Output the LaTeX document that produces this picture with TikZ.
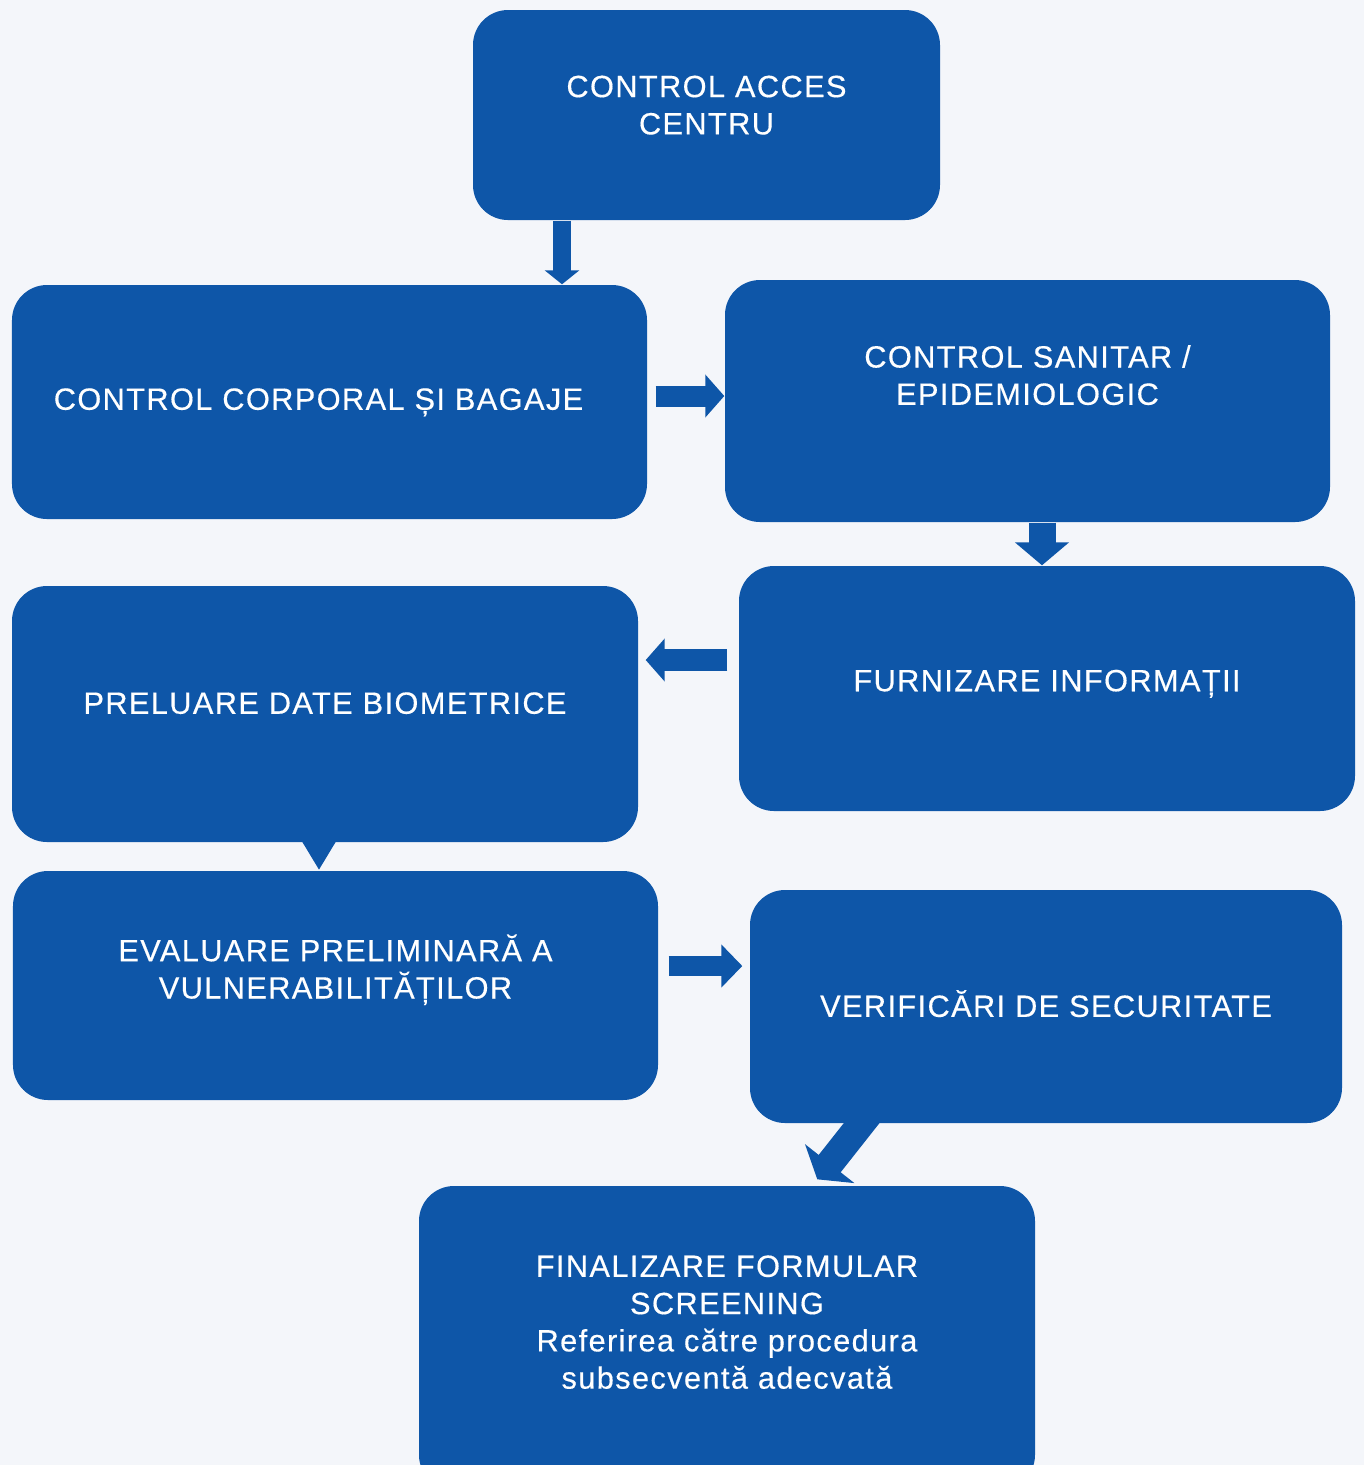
\documentclass[tikz,border=0pt]{standalone}
\usepackage{fontspec}
\setmainfont{Liberation Sans}[LetterSpace=4.5,FakeBold=0.4]
\usetikzlibrary{arrows.meta,calc}
\definecolor{boxblue}{RGB}{14,86,168}
\definecolor{pagegrey}{RGB}{244,246,250}

\begin{document}
\begin{tikzpicture}[
  stepbox/.style={rectangle, rounded corners=0.35cm, fill=boxblue, text=white, align=center, inner sep=0pt, font=\fontsize{8.75}{10.6}\selectfont},
  flowarrow/.style n args={3}{draw=boxblue, line width=#1, -{Triangle[length=#2, width=#3]}}
]
  \fill[pagegrey] (0,0) rectangle (13.64,-14.65);
  \useasboundingbox (0,0) rectangle (13.64,-14.65);

  \node[stepbox, minimum width=4.67cm, minimum height=2.10cm, text depth=0.2cm] (acces) at (7.065,-1.15) {CONTROL ACCES\\CENTRU};
  \node[stepbox, minimum width=6.35cm, minimum height=2.34cm, text depth=0.06cm] (corporal) at (3.295,-4.02) {CONTROL CORPORAL ȘI BAGAJE\hspace*{0.22cm}};
  \node[stepbox, minimum width=6.05cm, minimum height=2.42cm, text depth=0.52cm] (sanitar) at (10.275,-4.01) {CONTROL SANITAR /\\EPIDEMIOLOGIC};
  \node[stepbox, minimum width=6.16cm, minimum height=2.45cm, text depth=0.16cm] (furnizare) at (10.47,-6.885) {FURNIZARE INFORMAȚII};
  \node[stepbox, minimum width=6.26cm, minimum height=2.56cm, text depth=0.22cm] (preluare) at (3.25,-7.14) {PRELUARE DATE BIOMETRICE};
  \node[stepbox, minimum width=6.45cm, minimum height=2.29cm, text depth=0.38cm] (evaluare) at (3.355,-9.855) {EVALUARE PRELIMINARĂ A\\VULNERABILITĂȚILOR};
  \node[stepbox, minimum width=5.92cm, minimum height=2.33cm, text depth=0.06cm] (verificari) at (10.46,-10.065) {VERIFICĂRI DE SECURITATE};
  \node[stepbox, minimum width=6.16cm, minimum height=3.04cm, text depth=0.32cm] (finalizare) at (7.27,-13.38) {FINALIZARE FORMULAR\\SCREENING\\Referirea către procedura\\subsecventă adecvată};

  % arrows between the steps
  \draw[flowarrow={0.18cm}{0.14cm}{0.34cm}] (5.62,0 |- acces.south) -- (5.62,0 |- corporal.north);
  \draw[flowarrow={0.21cm}{0.19cm}{0.42cm}, shorten <=0.08cm] (corporal.east |- 0,-3.96) -- (sanitar.west |- 0,-3.96);
  \draw[flowarrow={0.27cm}{0.23cm}{0.53cm}] (10.42,0 |- sanitar.south) -- (10.42,0 |- furnizare.north);
  \draw[flowarrow={0.22cm}{0.19cm}{0.42cm}, shorten <=0.11cm, shorten >=0.07cm] (furnizare.west |- 0,-6.60) -- (preluare.east |- 0,-6.60);
  \draw[flowarrow={0.18cm}{0.45cm}{0.50cm}] (3.19,0 |- preluare.center) -- (3.19,0 |- evaluare.north);
  \draw[flowarrow={0.20cm}{0.21cm}{0.42cm}, shorten <=0.10cm, shorten >=0.07cm] (evaluare.east |- 0,-9.66) -- (verificari.west |- 0,-9.66);
  \draw[flowarrow={0.28cm}{0.20cm}{0.62cm}] ($(verificari.south west)+(1.30,0.23)$) -- ($(finalizare.north west)+(3.99,0.06)$);
\end{tikzpicture}
\end{document}
